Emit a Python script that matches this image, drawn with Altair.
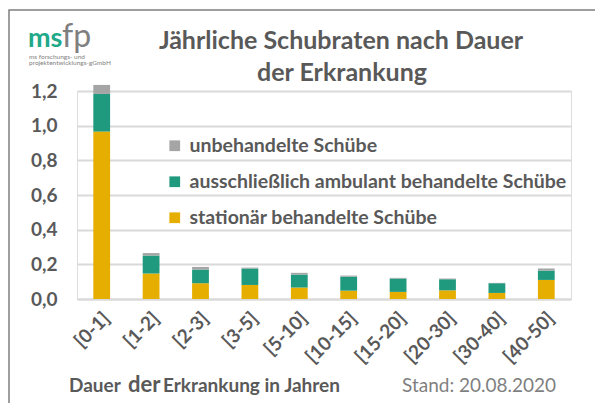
import altair as alt
import pandas as pd

categories = ["[0-1]", "[1-2]", "[2-3]", "[3-5]", "[5-10]", "[10-15]", "[15-20]", "[20-30]", "[30-40]", "[40-50]"]
stationaer = [0.966, 0.147, 0.091, 0.081, 0.066, 0.048, 0.041, 0.050, 0.035, 0.110]
ambulant = [0.217, 0.104, 0.079, 0.095, 0.075, 0.081, 0.077, 0.064, 0.056, 0.054]
unbehandelt = [0.052, 0.014, 0.015, 0.005, 0.010, 0.006, 0.004, 0.004, 0.002, 0.012]
series_names = ["unbehandelte Schübe", "ausschließlich ambulant behandelte Schübe", "stationär behandelte Schübe"]
series_colors = ["#A5A5A5", "#1F9A7E", "#E6AE00"]
y_ticks = [0, 0.2, 0.4, 0.6, 0.8, 1.0, 1.2]

rows = []
for i, c in enumerate(categories):
    rows.append({"cat": c, "serie": series_names[2], "val": stationaer[i], "ord": 0})
    rows.append({"cat": c, "serie": series_names[1], "val": ambulant[i], "ord": 1})
    rows.append({"cat": c, "serie": series_names[0], "val": unbehandelt[i], "ord": 2})
df = pd.DataFrame(rows)

FONT = "Lato"
TXT = "#595959"
W, H = 494, 208

bars = alt.Chart(df).mark_bar().encode(
    x=alt.X("cat:N", sort=categories, title=None,
            scale=alt.Scale(paddingInner=0.66, paddingOuter=0.33),
            axis=alt.Axis(labelAngle=-45, labelAlign="right", labelBaseline="middle",
                          labelFont=FONT, labelFontSize=19, labelFontWeight="bold",
                          labelColor=TXT, labelPadding=16, ticks=False,
                          domainColor="#D9D9D9", domainWidth=2, labelOffset=5)),
    y=alt.Y("val:Q", stack="zero", title=None,
            scale=alt.Scale(domain=[0, 1.2], nice=False),
            axis=alt.Axis(values=y_ticks, labelExpr="replace(format(datum.value, '.1f'), '.', ',')",
                          labelFont=FONT, labelFontSize=19, labelFontWeight="bold",
                          labelColor=TXT, labelPadding=20, ticks=False, domain=False,
                          gridColor="#D9D9D9", gridWidth=2)),
    color=alt.Color("serie:N", scale=alt.Scale(domain=series_names, range=series_colors),
                    legend=alt.Legend(title=None, orient="none", legendX=88, legendY=45,
                                      symbolType="square", symbolSize=115, symbolStrokeWidth=0,
                                      labelFont=FONT, labelFontSize=19.5, labelFontWeight="bold",
                                      labelColor=TXT, rowPadding=15, labelLimit=500, labelOffset=5)),
    order=alt.Order("ord:Q"),
)

def txt(text, x, y, size, color, weight="bold", align="left"):
    return alt.Chart(pd.DataFrame({"t": [text]})).mark_text(
        font=FONT, fontSize=size, fontWeight=weight, color=color, align=align, baseline="alphabetic"
    ).encode(x=alt.value(x), y=alt.value(y), text="t:N")

ox, oy = 77, 91
layers = [
    bars,
    txt("Jährliche Schubraten nach Dauer", 341 - ox, 49 - oy, 25, TXT, align="center"),
    txt("der Erkrankung", 342 - ox, 81 - oy, 25, TXT, align="center"),
    txt("ms", 28 - ox, 47 - oy, 27, "#22A98A", weight="bold"),
    txt("fp", 62 - ox, 47 - oy, 32, "#7F7F7F", weight="normal"),
    txt("ms forschungs- und", 29 - ox, 59 - oy, 6.5, "#7F7F7F", weight="normal"),
    txt("projektentwicklungs-gGmbH", 29 - ox, 65 - oy, 6.5, "#7F7F7F", weight="normal"),
    txt("Dauer", 69 - ox, 392 - oy, 19, TXT),
    txt("der", 128 - ox, 392 - oy, 22, TXT),
    txt("Erkrankung in Jahren", 163 - ox, 392 - oy, 19, TXT),
    txt("Stand: 20.08.2020", 402 - ox, 392 - oy, 19, "#7F7F7F", weight="normal"),
]

frame = alt.Chart(pd.DataFrame({"a": [0]})).mark_rect(
    fill=None, stroke="#7F7F7F", strokeWidth=1.5
).encode(x=alt.value(9 - ox), y=alt.value(10 - oy), x2=alt.value(620 - ox), y2=alt.value(430 - oy))

chart = alt.layer(frame, *layers).properties(
    width=W, height=H,
    autosize=alt.AutoSizeParams(type="none"),
    padding={"left": ox, "top": oy, "right": 595 - ox - W, "bottom": 403 - oy - H},
).configure_view(stroke=None).configure(background="white")

chart.save("out.html", embed_options={"renderer": "svg", "actions": False})
